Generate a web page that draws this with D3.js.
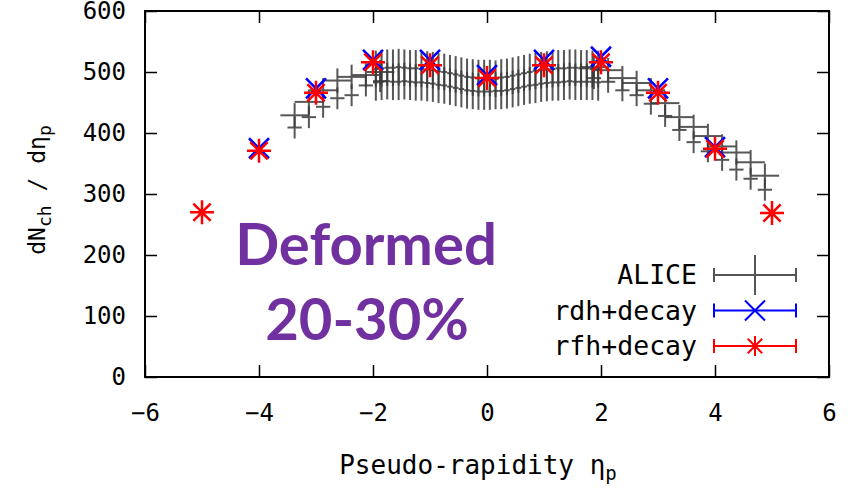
<!DOCTYPE html>
<html>
<head>
<meta charset="utf-8">
<script src="https://d3js.org/d3.v7.min.js"></script>
<style>
  body { margin: 0; background: #fff; }
  svg { display: block; }
  .mono { font-family: "DejaVu Sans Mono", monospace; }
</style>
</head>
<body>
<svg id="chart" width="861" height="489"></svg>
<script>
// ALICE central points (0.1 wide bins), two overlapping sets
var etaMid = [-1.95,-1.85,-1.75,-1.65,-1.55,-1.45,-1.35,-1.25,-1.15,-1.05,-0.95,-0.85,-0.75,-0.65,-0.55,-0.45,-0.35,-0.25,-0.15,-0.05,
              0.05,0.15,0.25,0.35,0.45,0.55,0.65,0.75,0.85,0.95,1.05,1.15,1.25,1.35,1.45,1.55,1.65,1.75,1.85,1.95];
var midHigh = [505,506,507,507,508,507,506,506,505,504,503,501,500,498,496,494,492,491,490,490,
               490,489,491,492,494,496,498,500,502,503,504,505,506,506,507,507,506,506,505,505];
var midLow  = [483,484,485,484,484,485,484,483,483,482,481,479,478,476,474,472,470,469,468,468,
               468,469,469,470,472,474,476,478,479,481,482,483,483,484,485,484,484,484,484,483];

// ALICE forward points (0.25 wide bins)
var etaFwd = [-3.375,-3.125,-2.875,-2.625,-2.375,-2.125,-1.875,
              1.875,2.125,2.375,2.625,2.875,3.125,3.375,3.625,3.875,4.125,4.375,4.625,4.875];
var fwdHigh = [429,451,470,486,492,495,500, 508,503,490,482,470,449,426,410,395,378,368,352,330];
var fwdLow  = [409,426,443,457,462,478,485, 490,484,470,462,448,428,405,385,370,356,340,325,307];

// model points
var etaRdh = [-4,-3,-2,-1,0,1,2,3,4];
var rdh    = [375,473,520,520,495,520,525,473,377];
var etaRfh = [-5,-4,-3,-2,-1,0,1,2,3,4,5];
var rfh    = [270,371,466,516,511,490,511,516,466,374,269];

var xTicks = [-6,-4,-2,0,2,4,6];
var yTicks = [0,100,200,300,400,500,600];

var svg = d3.select("#chart");
var pL = 145, pR = 829, pT = 11, pB = 377;

var x = d3.scaleLinear().domain([-6, 6]).range([pL, pR]);
var y = d3.scaleLinear().domain([0, 600]).range([pB, pT]);

// axes, ticks pointing inward on all four sides
var tk = 12;
svg.append("g").attr("transform", "translate(0," + pB + ")")
  .call(d3.axisBottom(x).tickValues(xTicks).tickSize(-tk).tickPadding(27)
    .tickFormat(function(d) { return d < 0 ? "\u2212" + (-d) : d; }));
svg.append("g").attr("transform", "translate(0," + pT + ")")
  .call(d3.axisTop(x).tickValues(xTicks).tickSize(-tk).tickFormat(""));
svg.append("g").attr("transform", "translate(" + pL + ",0)")
  .call(d3.axisLeft(y).tickValues(yTicks).tickSize(-tk).tickPadding(19));
svg.append("g").attr("transform", "translate(" + pR + ",0)")
  .call(d3.axisRight(y).tickValues(yTicks).tickSize(-tk).tickFormat(""));

svg.selectAll(".domain").remove();
svg.selectAll(".tick line").attr("stroke", "#000").attr("stroke-width", 1.5);
svg.selectAll(".tick text").attr("class", "mono").attr("font-size", 24).attr("fill", "#000");

svg.append("rect")
  .attr("x", pL).attr("y", pT)
  .attr("width", pR - pL).attr("height", pB - pT)
  .attr("fill", "none").attr("stroke", "#000").attr("stroke-width", 2);

// error crosses
var gray = "#3a3a3a";
function crosses(etas, vals, xerr, yerr) {
  var g = svg.append("g").attr("stroke", gray).attr("stroke-width", 2).attr("opacity", 0.85);
  var pts = etas.map(function(e, i) { return {e: e, v: vals[i]}; });
  g.selectAll("line.h").data(pts).enter().append("line")
    .attr("x1", function(d) { return x(d.e - xerr); })
    .attr("x2", function(d) { return x(d.e + xerr); })
    .attr("y1", function(d) { return y(d.v); })
    .attr("y2", function(d) { return y(d.v); });
  g.selectAll("line.v").data(pts).enter().append("line")
    .attr("x1", function(d) { return x(d.e); })
    .attr("x2", function(d) { return x(d.e); })
    .attr("y1", function(d) { return y(d.v - yerr); })
    .attr("y2", function(d) { return y(d.v + yerr); });
}
crosses(etaMid, midHigh, 0.05, 30);
crosses(etaMid, midLow, 0.05, 30);
crosses(etaFwd, fwdHigh, 0.25, 20);
crosses(etaFwd, fwdLow, 0.125, 18);

// marker paths
function xMark(s) {
  return "M" + (-s) + "," + (-s) + "L" + s + "," + s + "M" + (-s) + "," + s + "L" + s + "," + (-s);
}
function starMark(s) {
  var d = 0.72 * s;
  return "M" + (-s) + ",0L" + s + ",0M0," + (-s) + "L0," + s +
    "M" + (-d) + "," + (-d) + "L" + d + "," + d + "M" + (-d) + "," + d + "L" + d + "," + (-d);
}

svg.append("g").selectAll("path").data(etaRdh).enter().append("path")
  .attr("transform", function(d, i) { return "translate(" + x(d) + "," + y(rdh[i]) + ")"; })
  .attr("d", xMark(10)).attr("stroke", "#0000ff").attr("stroke-width", 2.5).attr("fill", "none");

svg.append("g").selectAll("path").data(etaRfh).enter().append("path")
  .attr("transform", function(d, i) { return "translate(" + x(d) + "," + y(rfh[i]) + ")"; })
  .attr("d", starMark(12)).attr("stroke", "#ff0000").attr("stroke-width", 2.5).attr("fill", "none");

// legend
var legRows = [
  {label: "ALICE", color: "#555555", mark: "cross"},
  {label: "rdh+decay", color: "#0000ff", mark: "x"},
  {label: "rfh+decay", color: "#ff0000", mark: "star"}
];
var lx1 = 714, lx2 = 796, lmid = 755;
var leg = svg.append("g");
legRows.forEach(function(r, i) {
  var ly = 275 + i * 35.5;
  leg.append("text").attr("class", "mono").attr("x", 697).attr("y", ly)
    .attr("dy", "0.35em").attr("text-anchor", "end").attr("font-size", 26.5).text(r.label);
  var g = leg.append("g").attr("stroke", r.color).attr("stroke-width", 2).attr("fill", "none");
  g.append("line").attr("x1", lx1).attr("x2", lx2).attr("y1", ly).attr("y2", ly);
  g.append("line").attr("x1", lx1).attr("x2", lx1).attr("y1", ly - 7).attr("y2", ly + 7);
  g.append("line").attr("x1", lx2).attr("x2", lx2).attr("y1", ly - 7).attr("y2", ly + 7);
  if (r.mark === "cross") {
    g.append("line").attr("x1", lmid).attr("x2", lmid).attr("y1", ly - 20).attr("y2", ly + 20);
  } else {
    g.append("path").attr("transform", "translate(" + lmid + "," + ly + ")")
      .attr("d", r.mark === "x" ? xMark(10) : starMark(10));
  }
});

// axis titles
var yl = svg.append("text").attr("class", "mono").attr("font-size", 23)
  .attr("text-anchor", "middle")
  .attr("transform", "translate(45,190) rotate(-90)");
yl.append("tspan").text("dN");
yl.append("tspan").attr("font-size", 18).attr("dy", 6).text("ch");
yl.append("tspan").attr("dy", -6).text(" / d\u03b7");
yl.append("tspan").attr("font-size", 18).attr("dy", 6).text("p");

var xl = svg.append("text").attr("class", "mono").attr("font-size", 26)
  .attr("text-anchor", "middle").attr("x", 478).attr("y", 474);
xl.append("tspan").text("Pseudo-rapidity \u03b7");
xl.append("tspan").attr("font-size", 19).attr("dy", 6).text("p");

// annotation
var note = svg.append("g").attr("font-family", "Lato, 'Open Sans', sans-serif")
  .attr("font-weight", "bold").attr("font-size", 58).attr("fill", "#7030a0")
  .attr("text-anchor", "middle");
note.append("text").attr("x", 366).attr("y", 265).text("Deformed");
note.append("text").attr("x", 367).attr("y", 340).text("20-30%");
</script>
</body>
</html>
